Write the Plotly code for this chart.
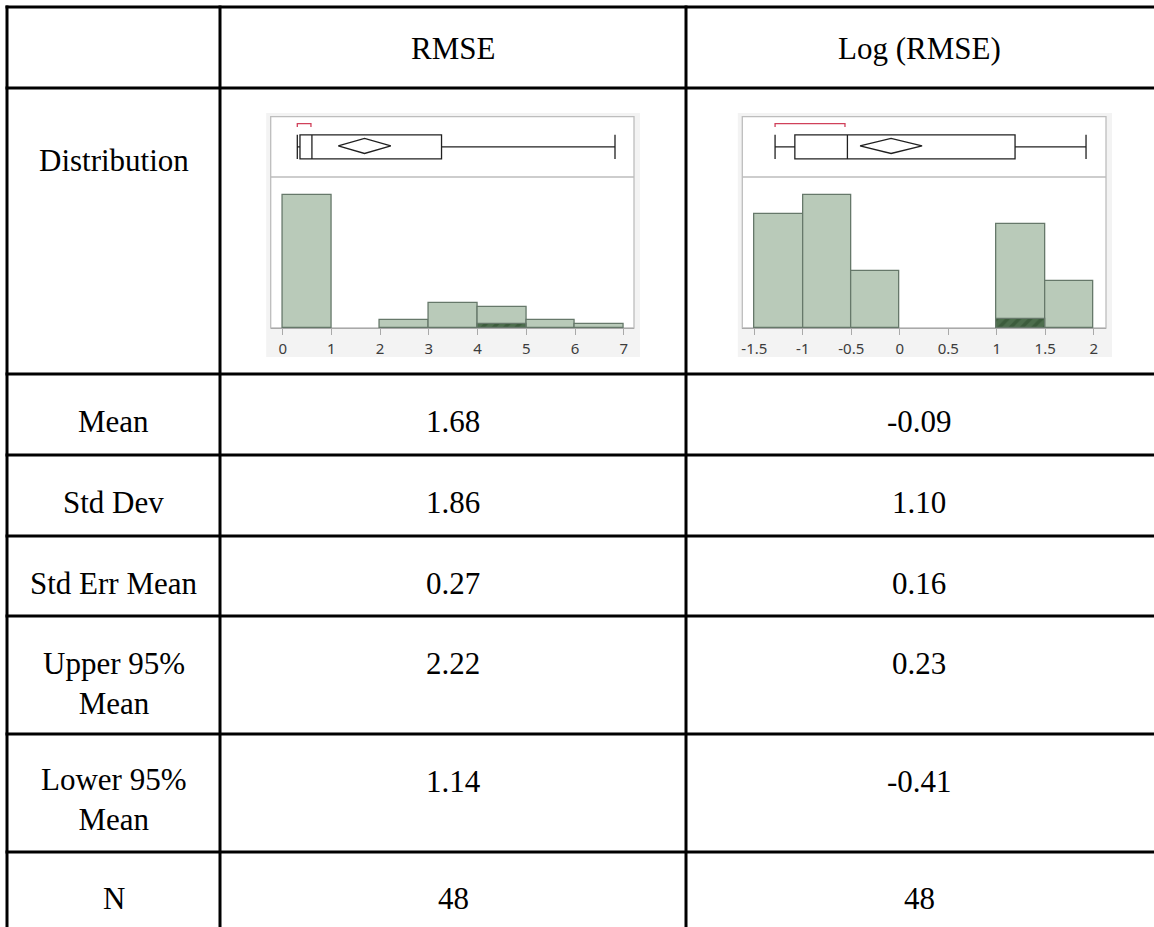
import plotly.graph_objects as go

W, H = 1154, 927

# ---------------- data ----------------
columns = ["RMSE", "Log (RMSE)"]
row_labels = ["Mean", "Std Dev", "Std Err Mean", "Upper 95%<br>Mean", "Lower 95%<br>Mean", "N"]
rmse_stats = ["1.68", "1.86", "0.27", "2.22", "1.14", "48"]
log_stats = ["-0.09", "1.10", "0.16", "0.23", "-0.41", "48"]

rmse_bin_left = [0, 1, 2, 3, 4, 5, 6]
rmse_bin_width = 1.0
rmse_counts = [32, 0, 2, 6, 5, 2, 1]
rmse_selected = [0, 0, 0, 0, 1, 0, 0]
rmse_ticks = [0, 1, 2, 3, 4, 5, 6, 7]
rmse_ticktext = ["0", "1", "2", "3", "4", "5", "6", "7"]
rmse_box = dict(min=0.30, q1=0.355, median=0.60, q3=3.26, max=6.82)
rmse_mean, rmse_lo95, rmse_hi95 = 1.68, 1.14, 2.22
rmse_short_half = (0.30, 0.58)

log_bin_left = [-1.5, -1.0, -0.5, 0.0, 0.5, 1.0, 1.5]
log_bin_width = 0.5
log_counts = [12, 14, 6, 0, 0, 11, 5]
log_selected = [0, 0, 0, 0, 0, 1, 0]
log_ticks = [-1.5, -1, -0.5, 0, 0.5, 1, 1.5, 2]
log_ticktext = ["-1.5", "-1", "-0.5", "0", "0.5", "1", "1.5", "2"]
log_box = dict(min=-1.286, q1=-1.082, median=-0.54, q3=1.189, max=1.921)
log_mean, log_lo95, log_hi95 = -0.09, -0.41, 0.23
log_short_half = (-1.286, -0.565)


def px(x):
    return x / W


def py(y):
    return 1 - y / H


fig = go.Figure()

BAR_FILL = "#b9cab9"
BAR_LINE = "#66786a"
TEXT_FONT = dict(family="Liberation Serif", size=31, color="black")

panels = [
    dict(ax="", box_ax="2", left=270.7, right=634, xr=[-0.246, 7.21], yr=[0, 36.4],
         bins=rmse_bin_left, bw=rmse_bin_width, counts=rmse_counts, sel=rmse_selected,
         ticks=rmse_ticks, ticktext=rmse_ticktext, box=rmse_box,
         mean=rmse_mean, lo=rmse_lo95, hi=rmse_hi95, sh=rmse_short_half),
    dict(ax="3", box_ax="4", left=742.3, right=1106, xr=[-1.624, 2.127], yr=[0, 15.93],
         bins=log_bin_left, bw=log_bin_width, counts=log_counts, sel=log_selected,
         ticks=log_ticks, ticktext=log_ticktext, box=log_box,
         mean=log_mean, lo=log_lo95, hi=log_hi95, sh=log_short_half),
]

shapes = []
layout_axes = {}
Y_TOP, Y_DIV, Y_BASE = 116.7, 177, 328

for p in panels:
    xa = "x" + p["ax"]
    ya = "y" + p["ax"]
    xb = "x" + p["box_ax"]
    yb = "y" + p["box_ax"]
    # histogram bars (non-empty bins)
    xs = [b + p["bw"] / 2 for b, c in zip(p["bins"], p["counts"]) if c > 0]
    ys = [c for c in p["counts"] if c > 0]
    fig.add_trace(go.Bar(x=xs, y=ys, width=p["bw"], xaxis=xa, yaxis=ya,
                         marker=dict(color=BAR_FILL, line=dict(color=BAR_LINE, width=1.3)),
                         showlegend=False, hoverinfo="skip"))
    # selected (hatched) portion
    xs2 = [b + p["bw"] / 2 for b, s in zip(p["bins"], p["sel"]) if s > 0]
    ys2 = [s for s in p["sel"] if s > 0]
    fig.add_trace(go.Bar(x=xs2, y=ys2, width=p["bw"], xaxis=xa, yaxis=ya,
                         marker=dict(color="#4d6e4d", line=dict(color=BAR_LINE, width=1.3),
                                     pattern=dict(shape="/", fgcolor="#2c4a2c", size=8, solidity=0.45)),
                         showlegend=False, hoverinfo="skip"))
    # box plot
    b = p["box"]
    fig.add_trace(go.Box(y=[0], q1=[b["q1"]], median=[b["median"]], q3=[b["q3"]],
                         lowerfence=[b["min"]], upperfence=[b["max"]], orientation="h",
                         xaxis=xb, yaxis=yb, fillcolor="white", width=0.8, whiskerwidth=1,
                         line=dict(color="#202020", width=1.3), boxpoints=False,
                         showlegend=False, hoverinfo="skip"))
    # mean diamond (95% CI)
    d = 0.25
    fig.add_trace(go.Scatter(x=[p["lo"], p["mean"], p["hi"], p["mean"], p["lo"]],
                             y=[0.03, 0.03 + d, 0.03, 0.03 - d, 0.03], mode="lines",
                             line=dict(color="#202020", width=1.3), xaxis=xb, yaxis=yb,
                             showlegend=False, hoverinfo="skip"))
    # shortest half bracket
    a, c = p["sh"]
    fig.add_trace(go.Scatter(x=[a, a, c, c], y=[0.66, 0.77, 0.77, 0.66], mode="lines",
                             line=dict(color="#d0405a", width=1.3), xaxis=xb, yaxis=yb,
                             showlegend=False, hoverinfo="skip"))

    dom = [px(p["left"]), px(p["right"])]
    xkey = "xaxis" + p["ax"]
    ykey = "yaxis" + p["ax"]
    xbkey = "xaxis" + p["box_ax"]
    ybkey = "yaxis" + p["box_ax"]
    layout_axes[xkey] = dict(domain=dom, anchor=ya, range=p["xr"], showgrid=False, zeroline=False,
                             showline=True, linecolor="#a9a9a9", linewidth=1.3,
                             ticks="outside", ticklen=6, tickcolor="#a9a9a9", tickwidth=1.3,
                             tickvals=p["ticks"], ticktext=p["ticktext"],
                             tickfont=dict(family="Noto Sans", size=15, color="#3c3c3c"),
                             ticklabelstandoff=1, fixedrange=True)
    layout_axes[ykey] = dict(domain=[py(Y_BASE), py(Y_DIV)], anchor=xa, range=p["yr"],
                             visible=False, fixedrange=True)
    layout_axes[xbkey] = dict(domain=dom, anchor=yb, range=p["xr"], visible=False,
                              matches=xa, fixedrange=True)
    layout_axes[ybkey] = dict(domain=[py(Y_DIV), py(Y_TOP)], anchor=xb, range=[-1, 1],
                              visible=False, fixedrange=True)

    # light gray report background and white framed plot area
    shapes.append(dict(type="rect", xref="paper", yref="paper", layer="below",
                       x0=px(p["left"] - 4.5), x1=px(p["right"] + 6), y0=py(357), y1=py(113),
                       fillcolor="#f3f3f3", line=dict(width=0)))
    shapes.append(dict(type="rect", xref="paper", yref="paper", layer="below",
                       x0=px(p["left"]), x1=px(p["right"]), y0=py(Y_BASE), y1=py(Y_TOP),
                       fillcolor="white", line=dict(color="#bdbdbd", width=1.3)))
    shapes.append(dict(type="line", xref="paper", yref="paper", layer="below",
                       x0=px(p["left"]), x1=px(p["right"]), y0=py(Y_DIV), y1=py(Y_DIV),
                       line=dict(color="#bdbdbd", width=1.3)))

# table grid
h_lines = [7, 88, 374, 455, 536, 616, 734, 852]
v_lines = [7, 220, 686]
for y in h_lines:
    shapes.append(dict(type="line", xref="paper", yref="paper", x0=px(5.5), x1=px(1154),
                       y0=py(y), y1=py(y), line=dict(color="black", width=3)))
for x in v_lines:
    shapes.append(dict(type="line", xref="paper", yref="paper", x0=px(x), x1=px(x),
                       y0=py(5.5), y1=py(927), line=dict(color="black", width=3)))

# table text
col_x = [113.5, 453, 919]
annotations = []


def add_text(x, y, text, anchor="middle"):
    annotations.append(dict(x=px(x), y=py(y), xref="paper", yref="paper", text=text,
                            showarrow=False, xanchor="center", yanchor=anchor, font=TEXT_FONT))


add_text(col_x[1], 48, columns[0])
add_text(col_x[2], 48, columns[1])
add_text(col_x[0], 160, "Distribution")

row_centers = [421, 502, 583, 683, 799, 898]
first_line = [421, 502, 583, 663, 781, 898]
for lab, v1, v2, yc, yf in zip(row_labels, rmse_stats, log_stats, row_centers, first_line):
    add_text(col_x[0], yc, lab)
    add_text(col_x[1], yf, v1)
    add_text(col_x[2], yf, v2)

fig.update_layout(width=W, height=H, margin=dict(l=0, r=0, t=0, b=0),
                  paper_bgcolor="white", plot_bgcolor="white", barmode="overlay",
                  bargap=0, shapes=shapes, annotations=annotations, showlegend=False,
                  **layout_axes)

fig.write_html("out.html", config={"displayModeBar": False},
               post_script="document.body.style.margin='0';document.body.style.overflow='hidden';")
